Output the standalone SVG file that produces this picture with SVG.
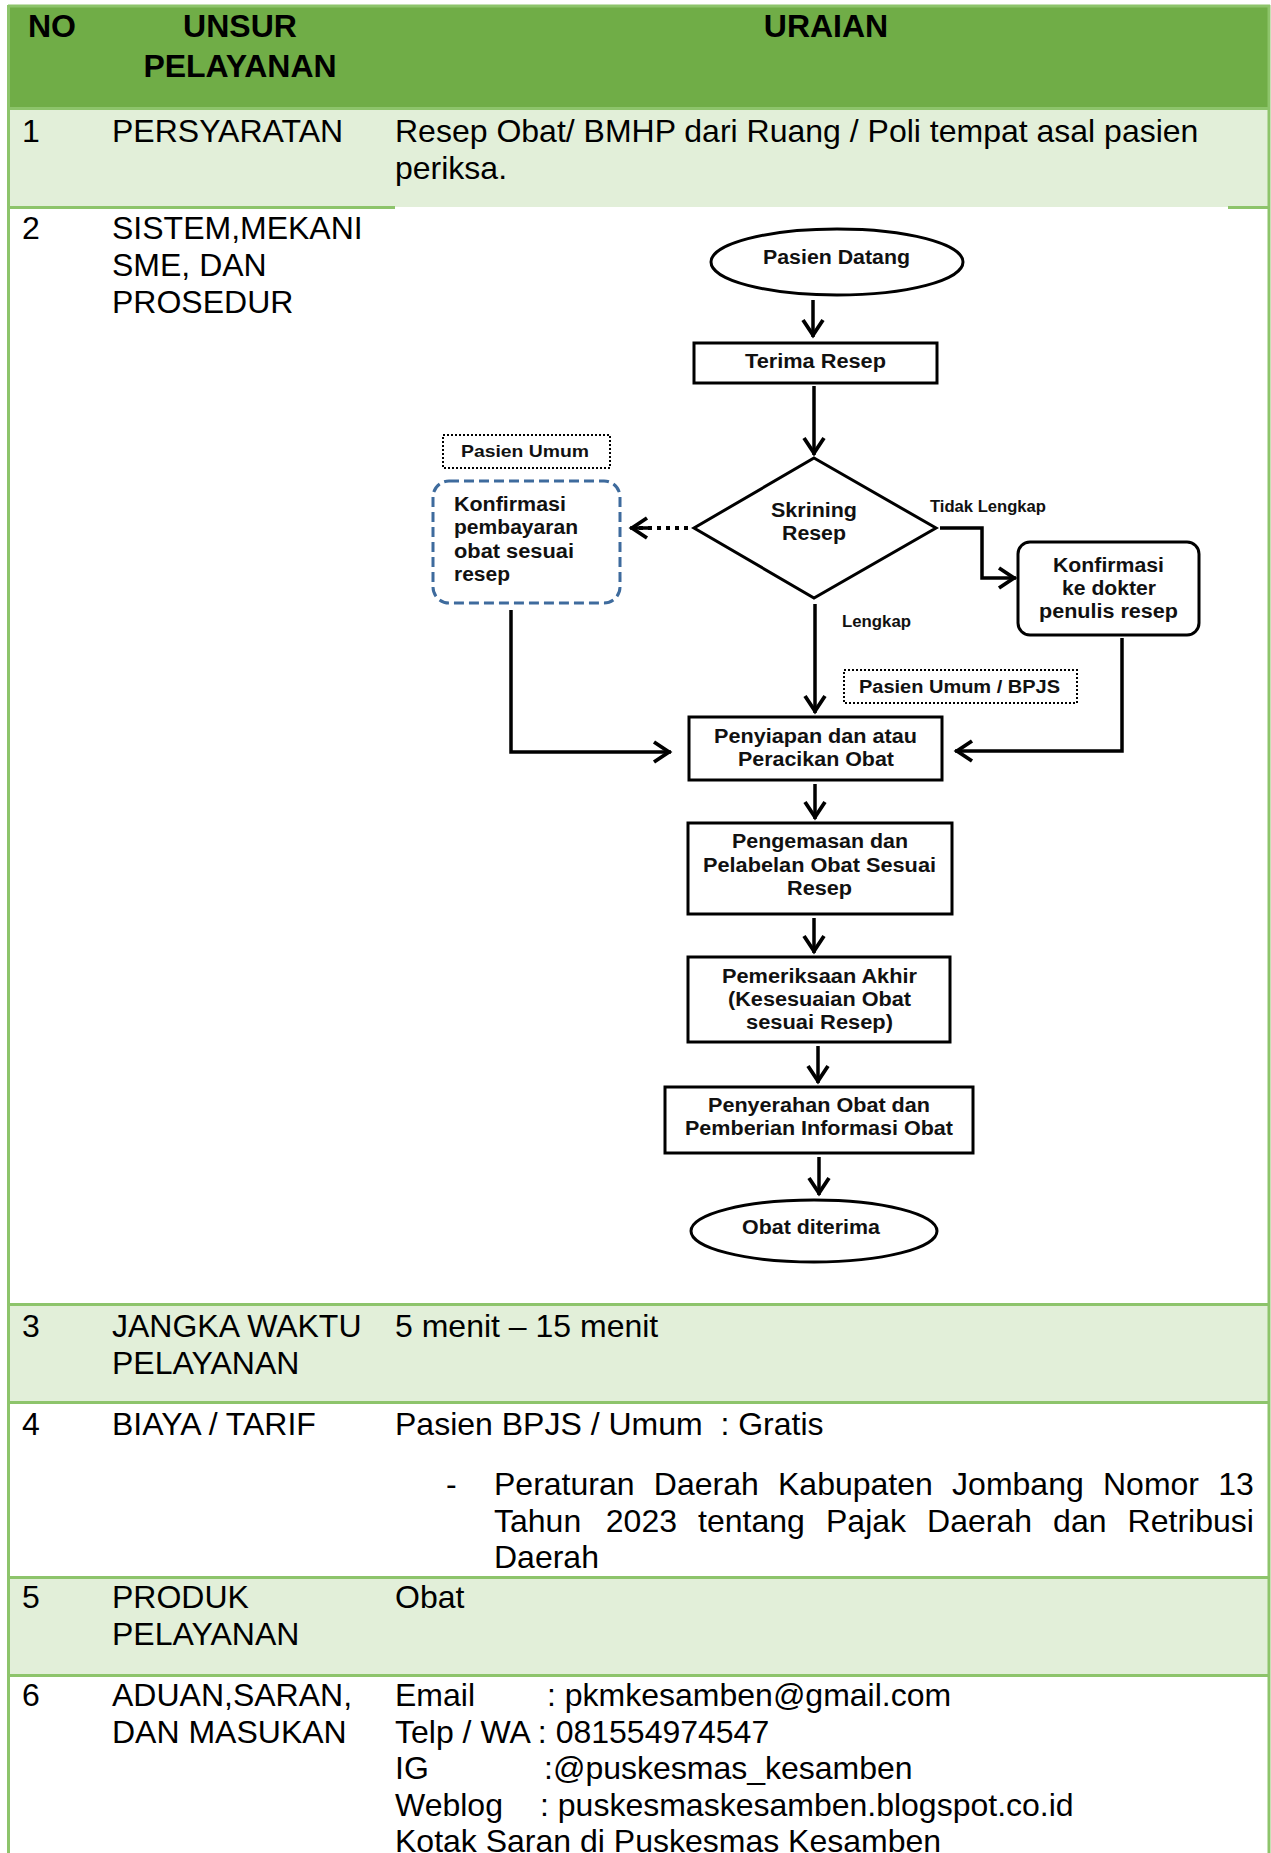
<svg xmlns="http://www.w3.org/2000/svg" width="1271" height="1853" viewBox="0 0 1271 1853">
<style>
.t{font-family:"Liberation Sans",Arial,sans-serif;font-size:32px;fill:#000}
.th{font-family:"Liberation Sans",Arial,sans-serif;font-size:32px;font-weight:bold;fill:#000}
.f{font-family:"Liberation Sans",Arial,sans-serif;font-size:19.5px;font-weight:bold;fill:#111}
.fs{font-family:"Liberation Sans",Arial,sans-serif;font-size:16.5px;font-weight:bold;fill:#111}
.bd{stroke:#8DC46B;stroke-width:3;fill:none}
.box{fill:#fff;stroke:#000;stroke-width:3}
.dot{fill:#fff;stroke:#000;stroke-width:2;stroke-dasharray:2 2}
.con{fill:none;stroke:#000;stroke-width:3.5}
.pre{white-space:pre}
</style>
<defs>
<marker id="arr" viewBox="-22 -13 26 26" refX="0" refY="0" markerWidth="26" markerHeight="26" markerUnits="userSpaceOnUse" orient="auto">
<path d="M-17,-10 L-2,0 L-17,10" fill="none" stroke="#000" stroke-width="3.8"/>
</marker>
</defs>
<rect width="1271" height="1853" fill="#fff"/>
<g id="table">
<rect x="9" y="6" width="1260" height="102" fill="#70AD47"/>
<rect x="9" y="108" width="1260" height="99" fill="#E2EFD9"/>
<rect x="9" y="1305" width="1260" height="97" fill="#E2EFD9"/>
<rect x="9" y="1578" width="1260" height="97" fill="#E2EFD9"/>
<line class="bd" x1="8" y1="6" x2="1270" y2="6"/>
<line class="bd" x1="8" y1="108.5" x2="1270" y2="108.5"/>
<line class="bd" x1="8" y1="207.5" x2="395" y2="207.5"/>
<line class="bd" x1="1228" y1="207.5" x2="1270" y2="207.5"/>
<line class="bd" x1="8" y1="1304.5" x2="1270" y2="1304.5"/>
<line class="bd" x1="8" y1="1402.5" x2="1270" y2="1402.5"/>
<line class="bd" x1="8" y1="1577.5" x2="1270" y2="1577.5"/>
<line class="bd" x1="8" y1="1675.5" x2="1270" y2="1675.5"/>
<line class="bd" x1="8.5" y1="5" x2="8.5" y2="1853"/>
<line class="bd" x1="1269" y1="5" x2="1269" y2="1853"/>
<text class="th" x="28" y="37">NO</text>
<text class="th" x="240" y="37" text-anchor="middle">UNSUR</text>
<text class="th" x="240" y="77" text-anchor="middle">PELAYANAN</text>
<text class="th" x="826" y="37" text-anchor="middle">URAIAN</text>
<text class="t" x="22" y="142">1</text>
<text class="t" x="112" y="142">PERSYARATAN</text>
<text class="t" x="395" y="142">Resep Obat/ BMHP dari Ruang / Poli tempat asal pasien</text>
<text class="t" x="395" y="179">periksa.</text>
<text class="t" x="22" y="239">2</text>
<text class="t" x="112" y="239">SISTEM,MEKANI</text>
<text class="t" x="112" y="276">SME, DAN</text>
<text class="t" x="112" y="313">PROSEDUR</text>
<text class="t" x="22" y="1337">3</text>
<text class="t" x="112" y="1337">JANGKA WAKTU</text>
<text class="t" x="112" y="1374">PELAYANAN</text>
<text class="t" x="395" y="1337">5 menit – 15 menit</text>
<text class="t" x="22" y="1435">4</text>
<text class="t" x="112" y="1435">BIAYA / TARIF</text>
<text class="t pre" x="395" y="1435">Pasien BPJS / Umum  : Gratis</text>
<text class="t" x="446" y="1495">-</text>
<text class="t" y="1495"><tspan x="494">Peraturan</tspan><tspan x="653.8">Daerah</tspan><tspan x="778">Kabupaten</tspan><tspan x="952.1">Jombang</tspan><tspan x="1103">Nomor</tspan><tspan x="1218.3">13</tspan></text>
<text class="t" y="1532"><tspan x="494">Tahun</tspan><tspan x="605.8">2023</tspan><tspan x="698.1">tentang</tspan><tspan x="826">Pajak</tspan><tspan x="927.1">Daerah</tspan><tspan x="1053.1">dan</tspan><tspan x="1127.6">Retribusi</tspan></text>
<text class="t" x="494" y="1568">Daerah</text>
<text class="t" x="22" y="1608">5</text>
<text class="t" x="112" y="1608">PRODUK</text>
<text class="t" x="112" y="1645">PELAYANAN</text>
<text class="t" x="395" y="1608">Obat</text>
<text class="t" x="22" y="1706">6</text>
<text class="t" x="112" y="1706">ADUAN,SARAN,</text>
<text class="t" x="112" y="1743">DAN MASUKAN</text>
<text class="t" x="395" y="1706">Email</text>
<text class="t" x="547" y="1706">: pkmkesamben@gmail.com</text>
<text class="t" x="395" y="1743">Telp / WA : 081554974547</text>
<text class="t" x="395" y="1779">IG</text>
<text class="t" x="544" y="1779">:@puskesmas_kesamben</text>
<text class="t" x="395" y="1816">Weblog</text>
<text class="t" x="540" y="1816">: puskesmaskesamben.blogspot.co.id</text>
<text class="t" x="395" y="1852">Kotak Saran di Puskesmas Kesamben</text>
</g>
<g id="connectors">
<path class="con" d="M813,300 L813,337" marker-end="url(#arr)"/>
<path class="con" d="M814,386 L814,455" marker-end="url(#arr)"/>
<path class="con" d="M940,528 L982,528 L982,578 L1016,578" marker-end="url(#arr)"/>
<path fill="none" stroke="#000" stroke-width="4" stroke-dasharray="4 5" d="M688,528 L636,528"/>
<path class="con" d="M648,528 L630,528" marker-end="url(#arr)" stroke-width="0"/>
<path class="con" d="M815,604 L815,713" marker-end="url(#arr)"/>
<path class="con" d="M1122,638 L1122,751 L955,751" marker-end="url(#arr)"/>
<path class="con" d="M511,610 L511,752 L671,752" marker-end="url(#arr)"/>
<path class="con" d="M815,784 L815,819" marker-end="url(#arr)"/>
<path class="con" d="M814,918 L814,953" marker-end="url(#arr)"/>
<path class="con" d="M818,1046 L818,1083" marker-end="url(#arr)"/>
<path class="con" d="M819,1157 L819,1195" marker-end="url(#arr)"/>
<text class="fs" x="930" y="512" textLength="116" lengthAdjust="spacingAndGlyphs">Tidak Lengkap</text>
<text class="fs" x="842" y="627" textLength="69" lengthAdjust="spacingAndGlyphs">Lengkap</text>
</g>
<g id="n-pasien-datang">
<ellipse class="box" cx="837" cy="262" rx="126" ry="33"/>
<text class="f" x="763" y="264" textLength="147" lengthAdjust="spacingAndGlyphs">Pasien Datang</text>
</g>
<g id="n-terima-resep">
<rect class="box" x="694" y="343" width="243" height="40"/>
<text class="f" x="745" y="368" textLength="141" lengthAdjust="spacingAndGlyphs">Terima Resep</text>
</g>
<g id="n-skrining">
<polygon class="box" stroke-width="2.5" points="814,458 936,528 814,598 694,528"/>
<text class="f" x="771" y="517" textLength="86" lengthAdjust="spacingAndGlyphs">Skrining</text>
<text class="f" x="782" y="540" textLength="64" lengthAdjust="spacingAndGlyphs">Resep</text>
</g>
<g id="n-pasien-umum">
<rect class="dot" x="443" y="435" width="167" height="33"/>
<text class="f" style="font-size:17px" x="461" y="457" textLength="128" lengthAdjust="spacingAndGlyphs">Pasien Umum</text>
</g>
<g id="n-konfirmasi-pembayaran">
<rect x="433" y="481" width="187" height="122" rx="16" fill="#fff" stroke="#3E6B9D" stroke-width="3" stroke-dasharray="10 5"/>
<text class="f" x="454" y="511" textLength="112" lengthAdjust="spacingAndGlyphs">Konfirmasi</text>
<text class="f" x="454" y="534" textLength="124" lengthAdjust="spacingAndGlyphs">pembayaran</text>
<text class="f" x="454" y="558" textLength="120" lengthAdjust="spacingAndGlyphs">obat sesuai</text>
<text class="f" x="454" y="581" textLength="56" lengthAdjust="spacingAndGlyphs">resep</text>
</g>
<g id="n-konfirmasi-dokter">
<rect class="box" x="1018" y="542" width="181" height="93" rx="12"/>
<text class="f" x="1053" y="572" textLength="111" lengthAdjust="spacingAndGlyphs">Konfirmasi</text>
<text class="f" x="1062" y="595" textLength="94" lengthAdjust="spacingAndGlyphs">ke dokter</text>
<text class="f" x="1039" y="618" textLength="139" lengthAdjust="spacingAndGlyphs">penulis resep</text>
</g>
<g id="n-pasien-umum-bpjs">
<rect class="dot" x="844" y="670" width="233" height="33"/>
<text class="f" style="font-size:18px" x="859" y="693" textLength="201" lengthAdjust="spacingAndGlyphs">Pasien Umum / BPJS</text>
</g>
<g id="n-penyiapan">
<rect class="box" x="689" y="717" width="253" height="63"/>
<text class="f" x="714" y="743" textLength="203" lengthAdjust="spacingAndGlyphs">Penyiapan dan atau</text>
<text class="f" x="738" y="766" textLength="156" lengthAdjust="spacingAndGlyphs">Peracikan Obat</text>
</g>
<g id="n-pengemasan">
<rect class="box" x="688" y="823" width="264" height="91"/>
<text class="f" x="732" y="848" textLength="176" lengthAdjust="spacingAndGlyphs">Pengemasan dan</text>
<text class="f" x="703" y="872" textLength="233" lengthAdjust="spacingAndGlyphs">Pelabelan Obat Sesuai</text>
<text class="f" x="787" y="895" textLength="65" lengthAdjust="spacingAndGlyphs">Resep</text>
</g>
<g id="n-pemeriksaan">
<rect class="box" x="688" y="957" width="262" height="85"/>
<text class="f" x="722" y="983" textLength="195" lengthAdjust="spacingAndGlyphs">Pemeriksaan Akhir</text>
<text class="f" x="728" y="1006" textLength="183" lengthAdjust="spacingAndGlyphs">(Kesesuaian Obat</text>
<text class="f" x="746" y="1029" textLength="147" lengthAdjust="spacingAndGlyphs">sesuai Resep)</text>
</g>
<g id="n-penyerahan">
<rect class="box" x="665" y="1087" width="308" height="66"/>
<text class="f" x="708" y="1112" textLength="222" lengthAdjust="spacingAndGlyphs">Penyerahan Obat dan</text>
<text class="f" x="685" y="1135" textLength="268" lengthAdjust="spacingAndGlyphs">Pemberian Informasi Obat</text>
</g>
<g id="n-obat-diterima">
<ellipse class="box" cx="814" cy="1231" rx="123" ry="31"/>
<text class="f" x="742" y="1234" textLength="138" lengthAdjust="spacingAndGlyphs">Obat diterima</text>
</g>
</svg>
